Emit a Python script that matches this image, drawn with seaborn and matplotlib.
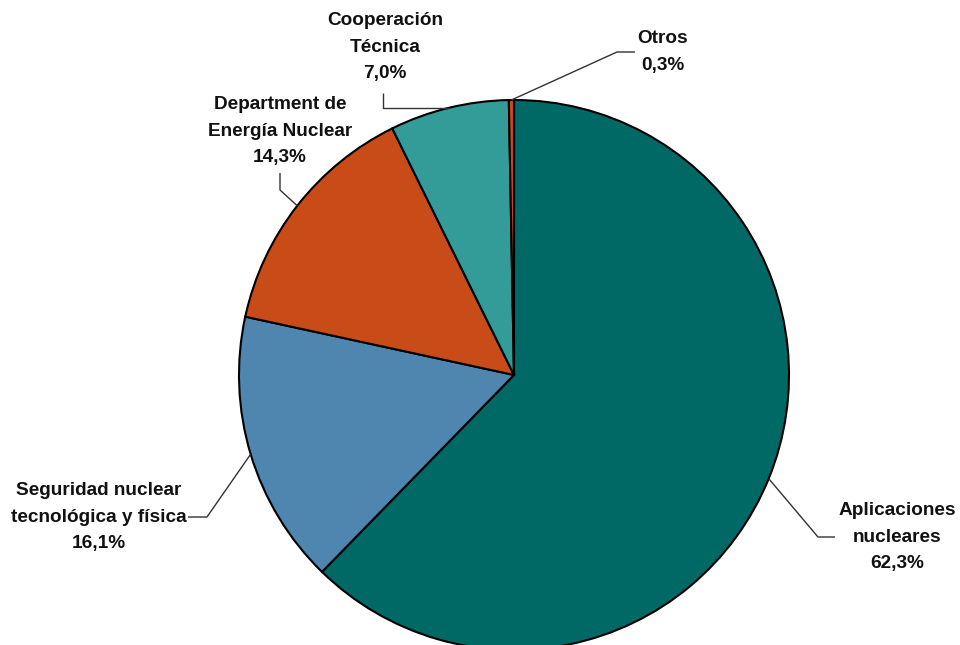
import numpy as np
import matplotlib
matplotlib.use("Agg")
import matplotlib.pyplot as plt
import seaborn as sns

# ---- data ----
categories = ["Aplicaciones\nnucleares", "Seguridad nuclear\ntecnológica y física",
              "Department de\nEnergía Nuclear", "Cooperación\nTécnica", "Otros"]
values = [62.3, 16.1, 14.3, 7.0, 0.3]
value_labels = ["62,3%", "16,1%", "14,3%", "7,0%", "0,3%"]
colors = ["#006966", "#4F86B0", "#C94B18", "#339B98", "#C94B18"]

sns.set_theme(style="white")
plt.rcParams['font.family'] = ['Liberation Sans', 'DejaVu Sans']

fig = plt.figure(figsize=(9.6, 6.45), dpi=100)
ax = fig.add_axes([0, 0, 1, 1])

CX, CY, R = 514.0, 375.0, 275.0  # pie centre / radius in pixels


def px(x, y):
    return ((x - CX) / R, (CY - y) / R)


wedges, _ = ax.pie(values, colors=colors, startangle=90, counterclock=False,
                   radius=1.0, center=(0, 0),
                   wedgeprops=dict(edgecolor="black", linewidth=1.5))
ax.set_xlim(-CX / R, (960 - CX) / R)
ax.set_ylim(-(645 - CY) / R, CY / R)
ax.set_aspect("auto")
ax.axis("off")

# label layout (pixels): text centre, leader start, leader elbow
layout = [
    dict(text=(897, 537), start=(835, 537), elbow=(818, 537)),
    dict(text=(99, 517), start=(188, 517), elbow=(207, 517)),
    dict(text=(280, 131), start=(280, 173), elbow=(280, 190)),
    dict(text=(385, 47), start=(383, 93), elbow=(383, 108)),
    dict(text=(663, 52), start=(635, 52), elbow=(617, 52)),
]

for i, (w, cat, vl, lay) in enumerate(zip(wedges, categories, value_labels, layout)):
    mid = np.deg2rad((w.theta1 + w.theta2) / 2.0)
    ax_, ay_ = np.cos(mid), np.sin(mid)
    sx, sy = px(*lay["start"])
    ex, ey = px(*lay["elbow"])
    if i == 3:
        ey = ay_
    ax.plot([sx, ex, ax_], [sy, ey, ay_], color="#333333", lw=1.0,
            solid_capstyle="butt", zorder=5)
    tx, ty = px(*lay["text"])
    ax.text(tx, ty, f"{cat}\n{vl}", ha="center", va="center",
            fontsize=13.7, fontweight="bold", color="#111111",
            linespacing=1.7)

fig.savefig("out.png", dpi=100, facecolor="white")
